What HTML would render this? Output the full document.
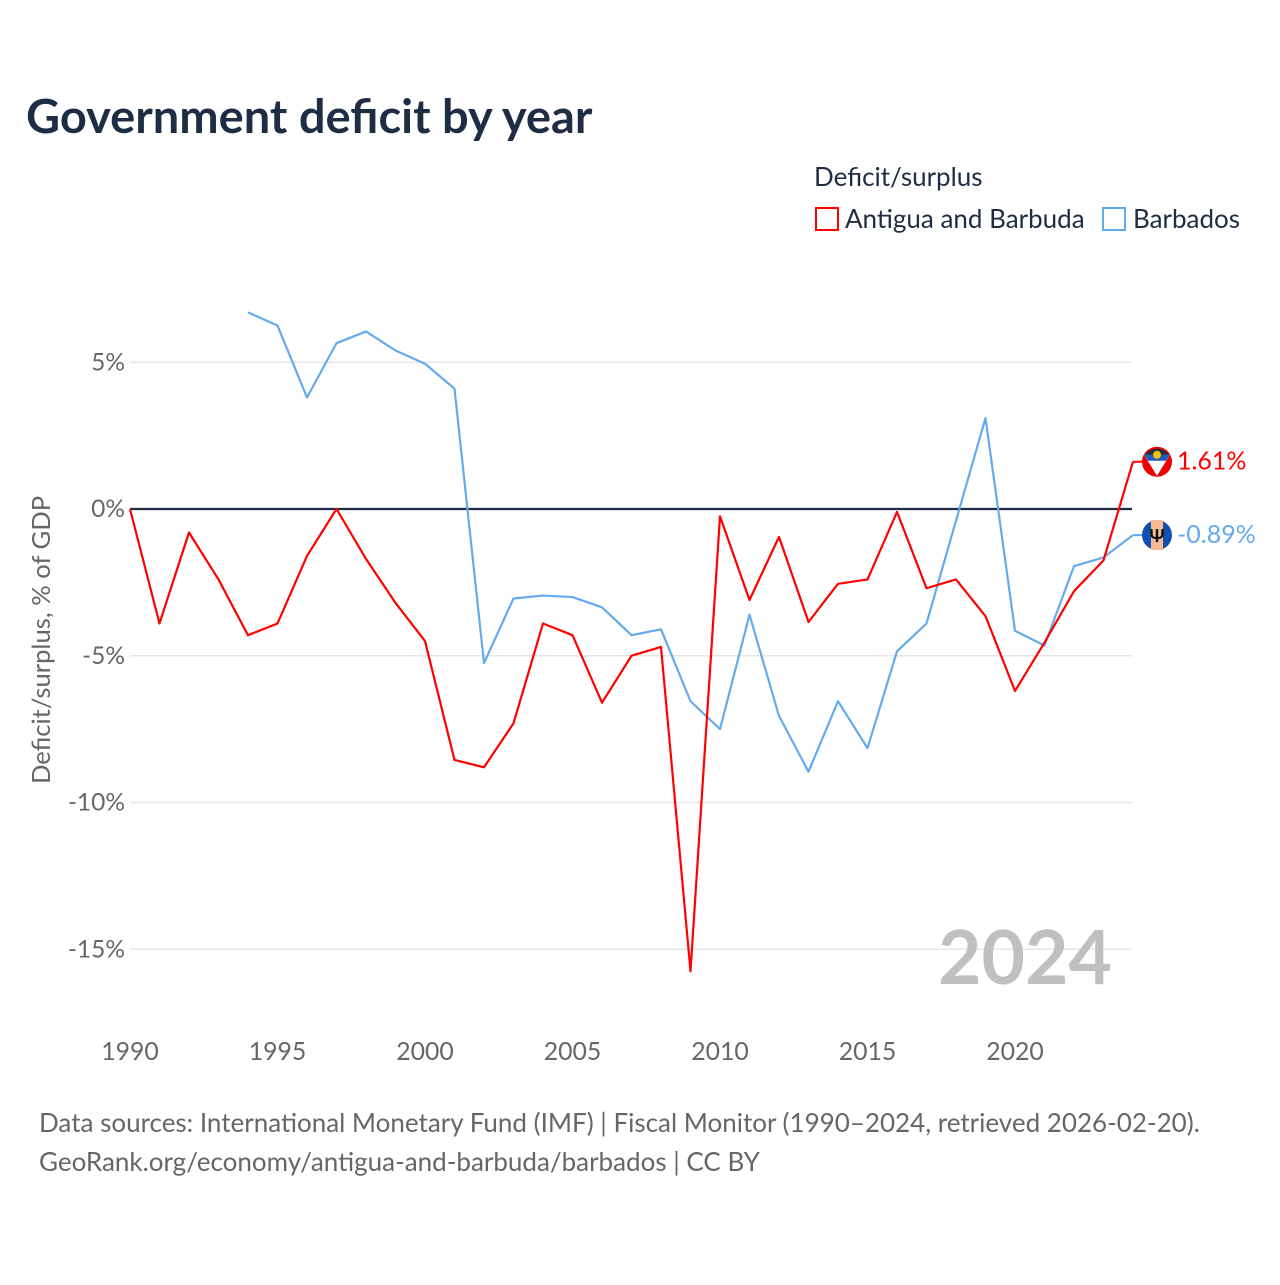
<!DOCTYPE html>
<html><head><meta charset="utf-8"><style>
body{margin:0;background:#fff;font-family:"Liberation Sans",sans-serif;}
svg text{font-family:"Lato","Liberation Sans",sans-serif;}
</style></head><body>
<svg id="chart" width="1280" height="1280" xmlns="http://www.w3.org/2000/svg">
<text x="26" y="133" font-size="47" font-weight="bold" fill="#1e2d44">Government deficit by year</text>
<text x="814" y="186" font-size="26" fill="#1e2d44">Deficit/surplus</text>
<rect x="816" y="208" width="22" height="22" fill="none" stroke="#f00" stroke-width="2"/>
<text x="845" y="228" font-size="26" fill="#1e2d44">Antigua and Barbuda</text>
<rect x="1103" y="208" width="22" height="22" fill="none" stroke="#66aaee" stroke-width="2"/>
<text x="1133" y="228" font-size="26" fill="#1e2d44">Barbados</text>
<g id="grid"></g><g id="series"></g>
<text transform="translate(50,640) rotate(-90)" text-anchor="middle" font-size="25.6" fill="#666">Deficit/surplus, % of GDP</text>
<text x="1112" y="984" text-anchor="end" font-size="75" font-weight="bold" fill="#c0c0c0">2024</text>
<text x="39" y="1132" font-size="26" fill="#666">Data sources: International Monetary Fund (IMF) | Fiscal Monitor (1990–2024, retrieved 2026-02-20).</text>
<text x="39" y="1171" font-size="26" fill="#666">GeoRank.org/economy/antigua-and-barbuda/barbados | CC BY</text>
</svg>
<script>
const yearsRed=[1990,1991,1992,1993,1994,1995,1996,1997,1998,1999,2000,2001,2002,2003,2004,2005,2006,2007,2008,2009,2010,2011,2012,2013,2014,2015,2016,2017,2018,2019,2020,2021,2022,2023,2024];
const antigua=[0,-3.9,-0.8,-2.4,-4.3,-3.9,-1.6,0,-1.7,-3.2,-4.5,-8.55,-8.8,-7.3,-3.9,-4.3,-6.6,-5.0,-4.7,-15.75,-0.25,-3.1,-0.95,-3.85,-2.55,-2.4,-0.1,-2.7,-2.4,-3.65,-6.2,-4.55,-2.8,-1.75,1.61];
const yearsBlue=[1994,1995,1996,1997,1998,1999,2000,2001,2002,2003,2004,2005,2006,2007,2008,2009,2010,2011,2012,2013,2014,2015,2016,2017,2018,2019,2020,2021,2022,2023,2024];
const barbados=[6.7,6.25,3.8,5.65,6.05,5.4,4.95,4.1,-5.25,-3.05,-2.95,-3.0,-3.35,-4.3,-4.1,-6.55,-7.5,-3.6,-7.05,-8.95,-6.55,-8.15,-4.85,-3.9,-0.4,3.1,-4.15,-4.65,-1.95,-1.65,-0.89];
const yTicks=[5,0,-5,-10,-15];
const yTickLabels=["5%","0%","-5%","-10%","-15%"];
const xTicks=[1990,1995,2000,2005,2010,2015,2020];
const NS="http://www.w3.org/2000/svg";
const X=y=>130+(y-1990)*29.5;
const Y=v=>509-v*29.35;
function mk(t,a,p){const e=document.createElementNS(NS,t);for(const k in a)e.setAttribute(k,a[k]);p.appendChild(e);return e;}
const grid=document.getElementById('grid'),ser=document.getElementById('series'),svg=document.getElementById('chart');
yTicks.forEach((v,i)=>{
 if(v!==0){const l=mk('line',{x1:130,x2:1132,y1:Y(v),y2:Y(v),stroke:'#e6e6e6','stroke-width':1.5},grid);
 
 }
 const t=mk('text',{x:125,y:Y(v)+8,'text-anchor':'end','font-size':24.5,fill:'#666'},grid);t.textContent=yTickLabels[i];
 
 
});
xTicks.forEach(v=>{const t=mk('text',{x:X(v),y:1060,'text-anchor':'middle','font-size':24.8,fill:'#666'},grid);t.textContent=v;
 
 });
const z=mk('line',{x1:130,x2:1132,y1:Y(0),y2:Y(0),stroke:'#1e2d44','stroke-width':2.2},grid);


function line(xs,vs,c,name){const p=mk('polyline',{points:xs.map((y,i)=>X(y)+','+Y(vs[i])).join(' '),fill:'none',stroke:c,'stroke-width':2.2,'stroke-linejoin':'round'},ser);
 
 }
line(yearsBlue,barbados,'#66aaee','barbados-line');
line(yearsRed,antigua,'#ff0000','antigua-line');
function endLabel(xs,vs,c,name,flag){const v=vs[vs.length-1],x=X(xs[xs.length-1]),y=Y(v);
 const l=mk('line',{x1:x,x2:x+10,y1:y,y2:y,stroke:c,'stroke-width':2},ser);
 
 
 const g=mk('g',{},ser);
 
 
 flag(g,x+24,y);
 const t=mk('text',{x:x+44,y:y+8,'font-size':25,fill:c},ser);t.textContent=v.toFixed(2)+'%';
 
 }
endLabel(yearsRed,antigua,'#ff0000','antigua',(g,cx,cy)=>{
 mk('circle',{cx,cy,r:15,fill:'#e00'},g);
 mk('path',{d:`M${cx-13},${cy-7} L${cx+13},${cy-7} L${cx},${cy+14} Z`,fill:'#fff'},g);
 mk('path',{d:`M${cx-13},${cy-7} L${cx+13},${cy-7} L${cx+9},${cy-1} L${cx-9},${cy-1} Z`,fill:'#1a5fc0'},g);
 mk('path',{d:`M${cx-12},${cy-7} A15,15 0 0 1 ${cx+12},${cy-7} Z`,fill:'#1e2d44'},g);
 mk('circle',{cx,cy:cy-7,r:4,fill:'#f5c400'},g);});
endLabel(yearsBlue,barbados,'#66aaee','barbados',(g,cx,cy)=>{
 mk('circle',{cx,cy,r:15,fill:'#1050b0'},g);
 mk('rect',{x:cx-6,y:cy-15,width:12,height:30,fill:'#f9b993'},g);
 const t=mk('text',{x:cx,y:cy+7,'text-anchor':'middle','font-size':18,'font-weight':'bold',fill:'#111'},g);t.textContent='Ψ';});
</script>
</body></html>
